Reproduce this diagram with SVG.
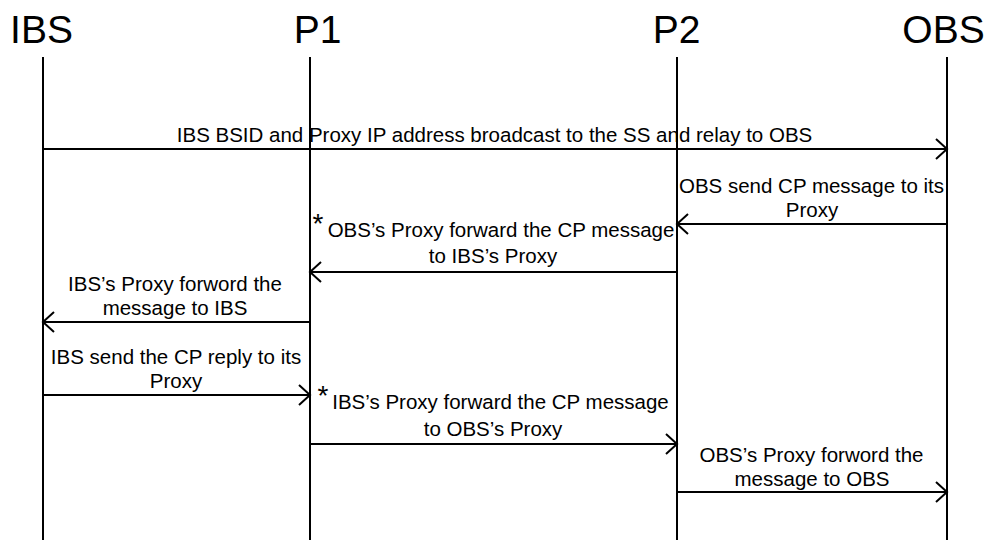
<svg xmlns="http://www.w3.org/2000/svg" width="990" height="540" viewBox="0 0 990 540">
<style>
.title{font-family:"Liberation Sans",Arial,sans-serif;font-size:39px;fill:#000;text-anchor:middle}
.lbl{font-family:"Liberation Sans",Arial,sans-serif;font-size:20.5px;fill:#000;text-anchor:middle}
.star{font-family:"Liberation Sans",Arial,sans-serif;font-size:28px;fill:#000;text-anchor:middle}
.life{stroke:#000;stroke-width:2;fill:none}
.msg{stroke:#000;stroke-width:2;fill:none;marker-end:url(#arr)}
</style>
<defs>
<marker id="arr" markerUnits="userSpaceOnUse" markerWidth="30" markerHeight="30" refX="0" refY="0" viewBox="-15 -15 30 30" orient="auto" overflow="visible">
<path d="M-11,-10 L0,0 L-11,10" fill="none" stroke="#000" stroke-width="2"/>
</marker>
</defs>
<rect width="990" height="540" fill="#fff"/>
<g id="IBS"><text class="title" x="41.5" y="43">IBS</text><line class="life" x1="43" y1="57" x2="43" y2="540"/></g>
<g id="P1"><text class="title" x="317.5" y="43">P1</text><line class="life" x1="310" y1="57" x2="310" y2="540"/></g>
<g id="P2"><text class="title" x="676.5" y="43">P2</text><line class="life" x1="677" y1="57" x2="677" y2="540"/></g>
<g id="OBS"><text class="title" x="943.5" y="43">OBS</text><line class="life" x1="947" y1="57" x2="947" y2="540"/></g>
<g id="connectors">
<line class="msg" x1="43" y1="149" x2="947" y2="149"/>
<line class="msg" x1="947" y1="224" x2="677" y2="224"/>
<line class="msg" x1="677" y1="272" x2="310" y2="272"/>
<line class="msg" x1="310" y1="322" x2="43" y2="322"/>
<line class="msg" x1="43" y1="395" x2="310" y2="395"/>
<line class="msg" x1="310" y1="444" x2="677" y2="444"/>
<line class="msg" x1="677" y1="492" x2="947" y2="492"/>
</g>
<g id="labels">
<text class="lbl" x="494.5" y="142">IBS BSID and Proxy IP address broadcast to the SS and relay to OBS</text>
<text class="lbl" x="811.5" y="193">OBS send CP message to its</text>
<text class="lbl" x="812" y="217">Proxy</text>
<text class="star" x="318" y="233">*</text>
<text class="lbl" x="501" y="237">OBS’s Proxy forward the CP message</text>
<text class="lbl" x="493" y="263">to IBS’s Proxy</text>
<text class="lbl" x="175" y="291">IBS’s Proxy forword the</text>
<text class="lbl" x="175" y="315">message to IBS</text>
<text class="lbl" x="176" y="364">IBS send the CP reply to its</text>
<text class="lbl" x="176" y="388">Proxy</text>
<text class="star" x="323" y="405">*</text>
<text class="lbl" x="500.5" y="409">IBS’s Proxy forward the CP message</text>
<text class="lbl" x="493" y="436">to OBS’s Proxy</text>
<text class="lbl" x="811.5" y="462">OBS’s Proxy forword the</text>
<text class="lbl" x="812" y="486">message to OBS</text>
</g>
</svg>
